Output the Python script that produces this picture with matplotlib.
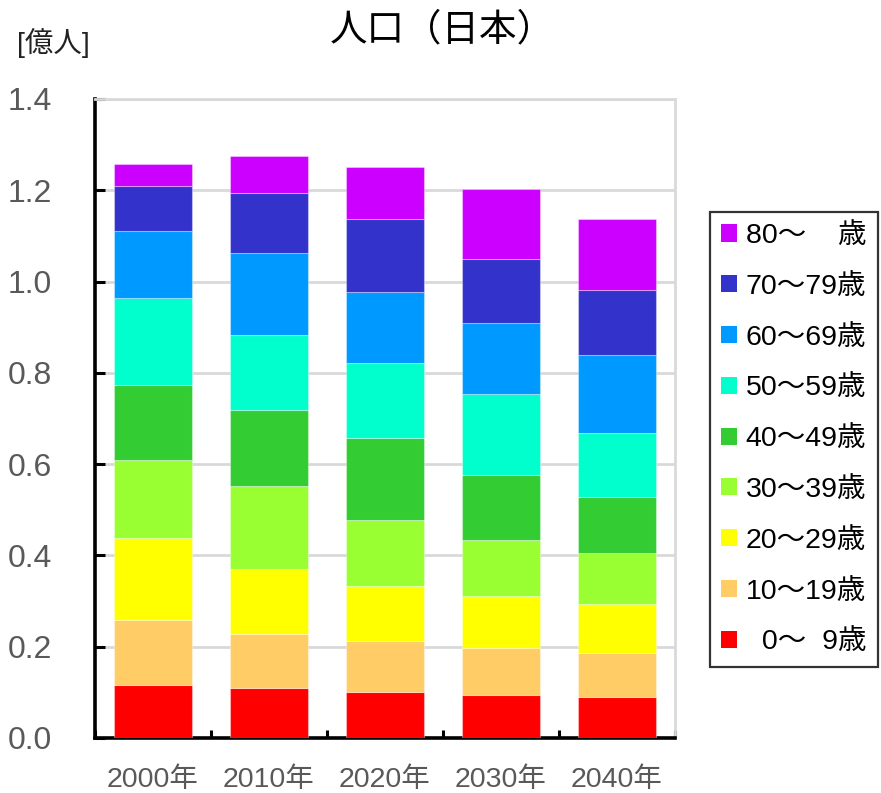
import numpy as np
import matplotlib
matplotlib.use("Agg")
import matplotlib.pyplot as plt
from matplotlib.patches import Patch

plt.rcParams['font.family'] = ['Liberation Sans', 'Noto Sans CJK JP', 'DejaVu Sans']

# population by age band, 100 million people
years = ['2000年', '2010年', '2020年', '2030年', '2040年']
age_labels = ['\u20070～\u20079歳', '10～19歳', '20～29歳', '30～39歳', '40～49歳',
              '50～59歳', '60～69歳', '70～79歳', '80～\u2007\u2007歳']
age_colors = ['#FF0000', '#FFCC66', '#FFFF00', '#99FF33', '#33CC33',
              '#00FFCC', '#0099FF', '#3333CC', '#CC00FF']

pop_0_9 = [0.117, 0.109, 0.101, 0.094, 0.090]
pop_10_19 = [0.141, 0.119, 0.111, 0.104, 0.096]
pop_20_29 = [0.181, 0.143, 0.122, 0.113, 0.107]
pop_30_39 = [0.169, 0.181, 0.144, 0.123, 0.112]
pop_40_49 = [0.166, 0.166, 0.179, 0.142, 0.122]
pop_50_59 = [0.191, 0.164, 0.164, 0.177, 0.142]
pop_60_69 = [0.146, 0.181, 0.156, 0.156, 0.170]
pop_70_79 = [0.099, 0.130, 0.159, 0.141, 0.142]
pop_80_up = [0.048, 0.081, 0.115, 0.152, 0.157]

series = [pop_0_9, pop_10_19, pop_20_29, pop_30_39, pop_40_49,
          pop_50_59, pop_60_69, pop_70_79, pop_80_up]

fig = plt.figure(figsize=(8.81, 7.93), dpi=100)
ax = fig.add_axes([0.1078, 0.0694, 0.6583, 0.8058])

x = np.arange(len(years))
bottom = np.zeros(len(years))
for vals, col in zip(series, age_colors):
    ax.bar(x, vals, width=0.665, bottom=bottom, color=col,
           edgecolor=(1, 1, 1, 0.35), linewidth=0.8, zorder=3)
    bottom += np.array(vals)

ax.set_xlim(-0.5, 4.5)
ax.set_ylim(0, 1.4)
ax.set_yticks(np.arange(0, 1.41, 0.2))
ax.set_yticklabels([f'{v:.1f}' for v in np.arange(0, 1.41, 0.2)])
ax.yaxis.grid(True, color='#d9d9d9', linewidth=2, zorder=0)
ax.set_axisbelow(True)

ax.set_xticks(x)
ax.set_xticklabels(years)
ax.set_xticks(np.arange(-0.5, 4.6, 1.0), minor=True)
ax.tick_params(axis='x', which='major', length=0, pad=21,
               labelsize=20.5, labelcolor='#595959')
ax.tick_params(axis='x', which='minor', direction='in', length=6, width=2.2)
ax.tick_params(axis='y', direction='in', length=7, width=2.2, pad=31,
               labelsize=23, labelcolor='#595959')

for side in ['left', 'bottom']:
    ax.spines[side].set_linewidth(2.6)
    ax.spines[side].set_color('black')
for side in ['top', 'right']:
    ax.spines[side].set_linewidth(2)
    ax.spines[side].set_color('#d9d9d9')

fig.text(0.502, 0.962, '人口（日本）', ha='center', va='center', fontsize=27)
fig.text(0.019, 0.946, '[億人]', ha='left', va='center', fontsize=20.5, color='#222222')

handles = [Patch(facecolor=c, edgecolor='none') for c in age_colors]
leg = fig.legend(handles[::-1], age_labels[::-1], loc='upper left',
                 bbox_to_anchor=(0.806, 0.733), fontsize=20.5,
                 handlelength=0.55, handleheight=0.55, handletextpad=0.3,
                 labelspacing=0.87, borderpad=0.4, borderaxespad=0,
                 frameon=True, fancybox=False, edgecolor='black')
leg.get_frame().set_linewidth(1.6)

fig.savefig('out.png', dpi=100)
